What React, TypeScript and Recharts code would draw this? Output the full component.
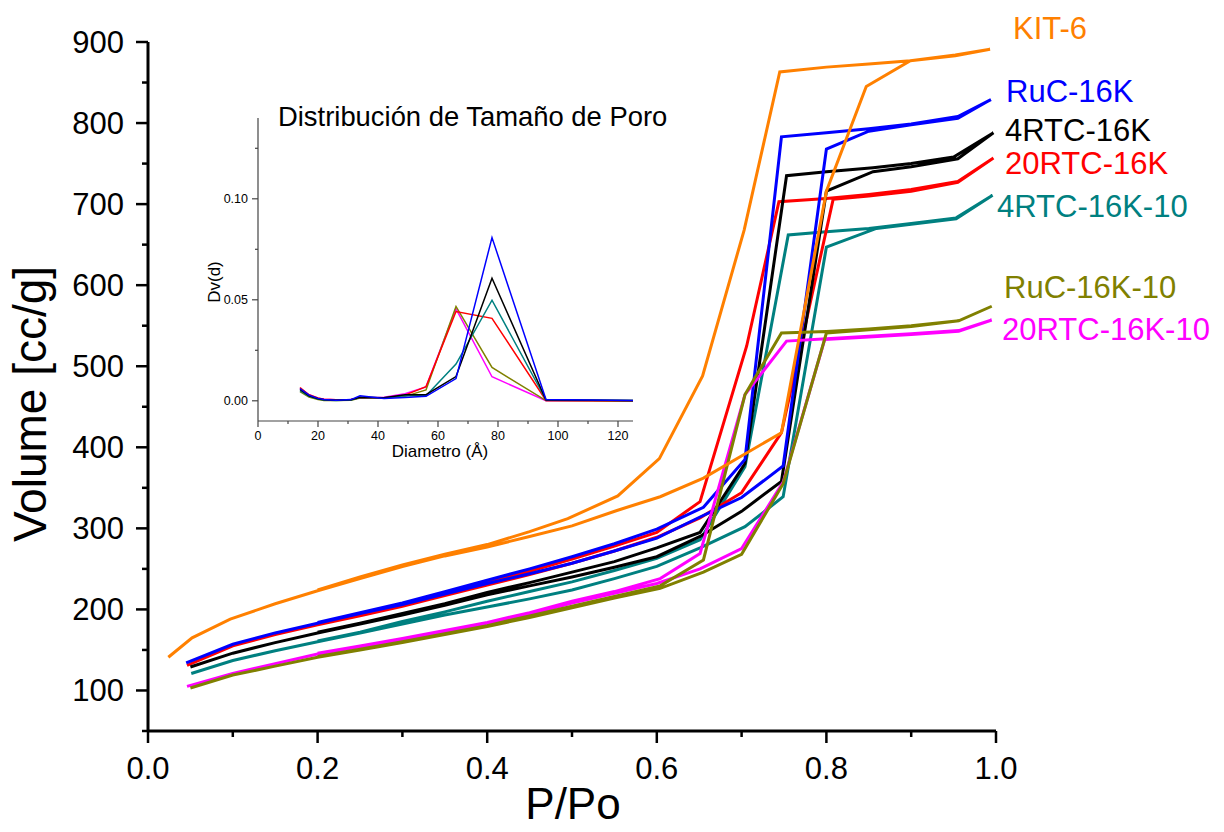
import React from 'react';
import { LineChart, Line, XAxis, YAxis } from 'recharts';

const FONT = '"Liberation Sans", Arial, Helvetica, sans-serif';

// isotherms, [P/Po, volume cc/g]; adsorption branch then desorption branch
const kit6Ads = [[0.024, 141], [0.052, 165], [0.097, 188], [0.15, 207], [0.2, 223], [0.25, 238], [0.3, 253], [0.35, 266], [0.4, 277], [0.45, 290], [0.5, 303], [0.553, 322], [0.604, 339], [0.655, 362], [0.747, 418], [0.8, 716], [0.847, 845], [0.899, 877], [0.952, 883], [0.993, 891]];
const kit6Des = [[0.993, 891], [0.952, 884], [0.899, 877], [0.85, 873], [0.8, 869], [0.745, 863], [0.703, 668], [0.654, 488], [0.603, 386], [0.554, 340], [0.495, 312], [0.45, 296], [0.4, 280], [0.35, 268], [0.3, 255], [0.25, 240], [0.2, 224]];

const ruc16Ads = [[0.045, 134], [0.1, 157], [0.15, 171], [0.2, 183], [0.25, 195], [0.3, 206], [0.35, 219], [0.4, 232], [0.45, 244], [0.5, 257], [0.55, 272], [0.6, 288], [0.651, 314], [0.7, 338], [0.749, 377], [0.8, 768], [0.85, 790], [0.9, 798], [0.955, 806], [0.994, 829]];
const ruc16Des = [[0.994, 829], [0.955, 808], [0.9, 799], [0.85, 793], [0.8, 788], [0.747, 783], [0.704, 385], [0.655, 326], [0.6, 299], [0.55, 281], [0.5, 265], [0.45, 250], [0.4, 236], [0.35, 222], [0.3, 208], [0.25, 196], [0.2, 184]];

const rtc4Ads = [[0.05, 129], [0.1, 146], [0.15, 159], [0.2, 171], [0.25, 182], [0.3, 193], [0.35, 205], [0.4, 218], [0.45, 229], [0.5, 240], [0.55, 252], [0.6, 265], [0.651, 290], [0.7, 321], [0.747, 358], [0.8, 716], [0.855, 740], [0.9, 746], [0.955, 756], [0.997, 788]];
const rtc4Des = [[0.997, 788], [0.95, 758], [0.9, 750], [0.855, 745], [0.8, 740], [0.753, 735], [0.704, 380], [0.651, 295], [0.6, 276], [0.55, 259], [0.5, 246], [0.45, 233], [0.4, 221], [0.35, 207], [0.3, 195], [0.25, 183], [0.2, 172]];

const rtc20Ads = [[0.046, 131], [0.1, 155], [0.15, 169], [0.2, 181], [0.25, 192], [0.3, 204], [0.35, 217], [0.4, 230], [0.45, 243], [0.5, 257], [0.55, 272], [0.6, 289], [0.651, 313], [0.7, 344], [0.747, 418], [0.808, 706], [0.85, 710], [0.9, 716], [0.955, 727], [0.997, 757]];
const rtc20Des = [[0.997, 757], [0.955, 728], [0.9, 718], [0.85, 712], [0.8, 707], [0.744, 703], [0.706, 525], [0.651, 333], [0.6, 295], [0.55, 278], [0.5, 262], [0.45, 247], [0.4, 233], [0.35, 219], [0.3, 205], [0.25, 193], [0.2, 182]];

const rtc4k10Ads = [[0.051, 121], [0.1, 137], [0.15, 149], [0.2, 160], [0.25, 171], [0.3, 182], [0.35, 193], [0.4, 203], [0.45, 213], [0.5, 224], [0.55, 238], [0.6, 253], [0.651, 276], [0.704, 302], [0.749, 339], [0.8, 647], [0.859, 670], [0.9, 675], [0.953, 682], [0.996, 711]];
const rtc4k10Des = [[0.996, 711], [0.953, 683], [0.9, 676], [0.85, 670], [0.8, 666], [0.755, 662], [0.704, 376], [0.651, 286], [0.6, 263], [0.55, 248], [0.5, 234], [0.45, 222], [0.4, 210], [0.35, 197], [0.3, 185], [0.25, 172], [0.2, 161]];

const ruc10Ads = [[0.05, 103], [0.1, 119], [0.15, 130], [0.2, 141], [0.25, 150], [0.3, 159], [0.35, 169], [0.4, 179], [0.45, 190], [0.5, 202], [0.55, 214], [0.604, 226], [0.655, 246], [0.7, 268], [0.749, 355], [0.8, 541], [0.85, 545], [0.9, 549], [0.956, 556], [0.995, 574]];
const ruc10Des = [[0.995, 574], [0.956, 556], [0.9, 550], [0.85, 546], [0.8, 543], [0.747, 541], [0.704, 465], [0.655, 261], [0.604, 229], [0.55, 216], [0.5, 204], [0.45, 192], [0.4, 180], [0.35, 170], [0.3, 160], [0.25, 151], [0.2, 142]];

const rtc20k10Ads = [[0.046, 105], [0.1, 121], [0.15, 133], [0.2, 145], [0.25, 154], [0.3, 162], [0.35, 172], [0.4, 182], [0.45, 194], [0.5, 208], [0.55, 220], [0.6, 232], [0.651, 250], [0.7, 275], [0.749, 357], [0.798, 533], [0.85, 536], [0.9, 539], [0.956, 543], [0.995, 557]];
const rtc20k10Des = [[0.995, 557], [0.956, 544], [0.9, 540], [0.85, 537], [0.8, 534], [0.753, 531], [0.704, 465], [0.651, 269], [0.604, 238], [0.55, 222], [0.5, 210], [0.45, 196], [0.4, 184], [0.35, 174], [0.3, 164], [0.25, 155], [0.2, 146]];

const isoNames = ['4RTC-16K-10', '20RTC-16K', '4RTC-16K', 'RuC-16K', '20RTC-16K-10', 'RuC-16K-10', 'KIT-6'];
const isoColors = ['#008080', '#FF0000', '#000000', '#0000FF', '#FF00FF', '#808000', '#FF8000'];
const isoBranches = [
  [rtc4k10Ads, rtc4k10Des],
  [rtc20Ads, rtc20Des],
  [rtc4Ads, rtc4Des],
  [ruc16Ads, ruc16Des],
  [rtc20k10Ads, rtc20k10Des],
  [ruc10Ads, ruc10Des],
  [kit6Ads, kit6Des],
];

const xTicksMain = [0, 0.1, 0.2, 0.3, 0.4, 0.5, 0.6, 0.7, 0.8, 0.9, 1.0];
const yTicksMain = [50, 100, 150, 200, 250, 300, 350, 400, 450, 500, 550, 600, 650, 700, 750, 800, 850, 900];

// inset: pore size distribution
const poreD = [14, 17, 20, 22, 26, 31, 34, 42, 49, 56, 66, 78, 96, 125];
const dvRuc16 = [0.0061, 0.0028, 0.0012, 0.0006, 0.0003, 0.0006, 0.0025, 0.0012, 0.0016, 0.0022, 0.011, 0.0808, 0.0006, 0.0002];
const dvRtc4 = [0.0057, 0.0025, 0.001, 0.0005, 0.0003, 0.0005, 0.0018, 0.0015, 0.003, 0.003, 0.012, 0.0607, 0.0004, 0.0001];
const dvRtc20 = [0.0066, 0.003, 0.0014, 0.0008, 0.0005, 0.0006, 0.0015, 0.0014, 0.0028, 0.007, 0.0442, 0.0408, 0.0002, 0.0];
const dvRtc4k10 = [0.005, 0.0022, 0.0009, 0.0004, 0.0002, 0.0004, 0.0016, 0.0015, 0.0025, 0.0025, 0.0182, 0.0498, 0.0005, 0.0001];
const dvRuc10 = [0.0045, 0.0018, 0.0006, 0.0002, 0.0001, 0.0003, 0.0014, 0.0014, 0.0022, 0.0054, 0.0467, 0.0165, 0.0001, -0.0002];
const dvRtc20k10 = [0.0062, 0.003, 0.0013, 0.0008, 0.0005, 0.0007, 0.0015, 0.0018, 0.0035, 0.0069, 0.0455, 0.0119, 0.0, 0.0];

const insetSeries = [dvRtc20k10, dvRuc10, dvRtc20, dvRtc4k10, dvRtc4, dvRuc16];
const insetColors = ['#FF00FF', '#808000', '#FF0000', '#008080', '#000000', '#0000FF'];
const xTicksInset = [0, 10, 20, 30, 40, 50, 60, 70, 80, 90, 100, 110, 120];
const yTicksInset = [0, 0.025, 0.05, 0.075, 0.1, 0.125];

// label layout (text at line ends)
const labelLayout = {
  'KIT-6': [1013, 39],
  'RuC-16K': [1006, 102],
  '4RTC-16K': [1005, 141],
  '20RTC-16K': [1005, 174],
  '4RTC-16K-10': [997, 217],
  'RuC-16K-10': [1004, 298],
  '20RTC-16K-10': [1002, 340],
};

const toPoints = (pairs: number[][]) => pairs.map(([p, v]) => ({ p, v }));

function MainYTick(props: any) {
  const { x, y, payload } = props;
  const major = payload.value % 100 === 0;
  return (
    <g>
      <line x1={x - (major ? 12 : 6)} x2={x} y1={y} y2={y} stroke="#000" strokeWidth={2.5} />
      {major && (
        <text x={x - 24} y={y + 11} textAnchor="end" fontSize={31} fontFamily={FONT} fill="#000">
          {payload.value}
        </text>
      )}
    </g>
  );
}

function MainXTick(props: any) {
  const { x, y, payload } = props;
  const major = Math.round(payload.value * 10) % 2 === 0;
  return (
    <g>
      <line x1={x} x2={x} y1={y} y2={y + (major ? 12 : 6)} stroke="#000" strokeWidth={2.5} />
      {major && (
        <text x={x} y={y + 48} textAnchor="middle" fontSize={31} fontFamily={FONT} fill="#000">
          {payload.value.toFixed(1)}
        </text>
      )}
    </g>
  );
}

function InsetYTick(props: any) {
  const { x, y, payload } = props;
  const major = Math.round(payload.value * 1000) % 50 === 0;
  return (
    <g>
      <line x1={x - (major ? 6 : 3)} x2={x} y1={y} y2={y} stroke="#444" strokeWidth={1.2} />
      {major && (
        <text x={x - 10} y={y + 4.5} textAnchor="end" fontSize={12.5} fontFamily={FONT} fill="#000">
          {payload.value.toFixed(2)}
        </text>
      )}
    </g>
  );
}

function InsetXTick(props: any) {
  const { x, y, payload } = props;
  const major = payload.value % 20 === 0;
  return (
    <g>
      <line x1={x} x2={x} y1={y} y2={y + (major ? 6 : 3)} stroke="#444" strokeWidth={1.2} />
      {major && (
        <text x={x} y={y + 19} textAnchor="middle" fontSize={12.5} fontFamily={FONT} fill="#000">
          {payload.value}
        </text>
      )}
    </g>
  );
}

export default function App() {
  const insetData = poreD.map((d, i) => {
    const row: any = { d };
    insetSeries.forEach((s, k) => {
      row['s' + k] = s[i];
    });
    return row;
  });

  return (
    <div style={{ position: 'absolute', left: 0, top: 0, width: 1224, height: 832, background: '#fff', overflow: 'hidden' }}>
      <div style={{ position: 'absolute', left: 0, top: 0 }}>
        <LineChart width={1224} height={832} margin={{ top: 42, right: 228, left: 0, bottom: 0 }}>
          <XAxis
            type="number"
            dataKey="p"
            domain={[0, 1]}
            ticks={xTicksMain}
            interval={0}
            height={101}
            tickSize={0}
            tickMargin={0}
            tickLine={false}
            axisLine={{ stroke: '#000', strokeWidth: 3 }}
            tick={<MainXTick />}
            allowDataOverflow
          />
          <YAxis
            type="number"
            dataKey="v"
            domain={[50, 900]}
            ticks={yTicksMain}
            interval={0}
            width={148}
            tickSize={0}
            tickMargin={0}
            tickLine={false}
            axisLine={{ stroke: '#000', strokeWidth: 3 }}
            tick={<MainYTick />}
            allowDataOverflow
          />
          {isoBranches.map(([ads, des], i) => (
            <Line
              key={isoNames[i]}
              name={isoNames[i]}
              data={toPoints([...ads, ...des])}
              dataKey="v"
              type="linear"
              stroke={isoColors[i]}
              strokeWidth={3}
              dot={false}
              activeDot={false}
              isAnimationActive={false}
            />
          ))}
        </LineChart>
      </div>

      <div style={{ position: 'absolute', left: 200, top: 90 }}>
        <LineChart width={460} height={380} data={insetData} margin={{ top: 28, right: 27, left: 0, bottom: 0 }}>
          <XAxis
            type="number"
            dataKey="d"
            domain={[0, 125]}
            ticks={xTicksInset}
            interval={0}
            height={49}
            tickSize={0}
            tickMargin={0}
            tickLine={false}
            axisLine={{ stroke: '#444', strokeWidth: 1.2 }}
            tick={<InsetXTick />}
            allowDataOverflow
          />
          <YAxis
            type="number"
            domain={[-0.01, 0.14]}
            ticks={yTicksInset}
            interval={0}
            width={58}
            tickSize={0}
            tickMargin={0}
            tickLine={false}
            axisLine={{ stroke: '#444', strokeWidth: 1.2 }}
            tick={<InsetYTick />}
            allowDataOverflow
          />
          {insetSeries.map((_, k) => (
            <Line
              key={k}
              dataKey={'s' + k}
              type="linear"
              stroke={insetColors[k]}
              strokeWidth={1.5}
              dot={false}
              activeDot={false}
              isAnimationActive={false}
            />
          ))}
        </LineChart>
      </div>

      <svg width={1224} height={832} style={{ position: 'absolute', left: 0, top: 0, pointerEvents: 'none' }}>
        <text x={573} y={819} textAnchor="middle" fontSize={44} fontFamily={FONT} fill="#000">P/Po</text>
        <text x={46} y={404} transform="rotate(-90 46 404)" textAnchor="middle" fontSize={46} fontFamily={FONT} fill="#000">
          Volume [cc/g]
        </text>
        <text x={278} y={126} fontSize={27.4} fontFamily={FONT} fill="#000">Distribución de Tamaño de Poro</text>
        <text x={220} y={282} transform="rotate(-90 220 282)" textAnchor="middle" fontSize={17} fontFamily={FONT} fill="#000">
          Dv(d)
        </text>
        <text x={440} y={457} textAnchor="middle" fontSize={17} fontFamily={FONT} fill="#000">Diametro (Å)</text>
        {isoNames.map((n, i) => (
          <text key={n} x={labelLayout[n][0]} y={labelLayout[n][1]} fontSize={31} fontFamily={FONT} fill={isoColors[i]}>
            {n}
          </text>
        ))}
      </svg>
    </div>
  );
}
